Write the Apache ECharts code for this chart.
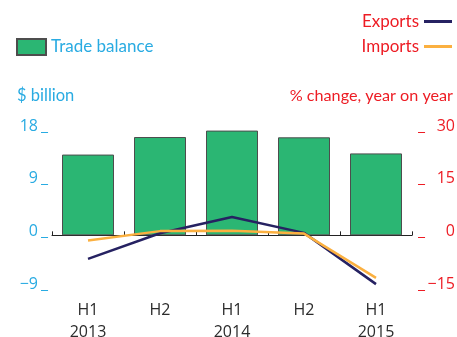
<!DOCTYPE html>
<html>
<head>
<meta charset="utf-8">
<style>
  html, body { margin: 0; padding: 0; background: #fff; }
  #chart { width: 457px; height: 337px; }
</style>
<script src="https://cdn.jsdelivr.net/npm/echarts@6/dist/echarts.min.js"></script>
</head>
<body>
<div id="chart"></div>
<script>
// Half-year periods
const periods = ['H1\n2013', 'H2', 'H1\n2014', 'H2', 'H1\n2015'];
// Trade balance, $ billion
const tradeBalance = [13.8, 16.8, 17.9, 16.75, 14.0];
// Year-on-year change, %
const exportsChange = [-6.7, 0.6, 5.2, 0.7, -13.9];
const importsChange = [-1.5, 1.2, 1.3, 0.5, -12.1];

const BLUE = '#29abe2';
const RED = '#ed1c24';
const GREEN = '#2bb673';
const NAVY = '#262262';
const ORANGE = '#fbb040';
const TICK_FONT = '"Open Sans", sans-serif';
const TEXT_FONT = 'Lato, sans-serif';

// Negative numbers use a typographic minus sign
const fmt = v => (v < 0 ? '\u2212' + Math.abs(v) : String(v));

const chart = echarts.init(document.getElementById('chart'), null, { renderer: 'canvas' });

chart.setOption({
  animation: false,
  grid: { left: 52, right: 45, top: 130, bottom: 49, outerBoundsMode: 'none', containLabel: false },
  legend: [
    {
      data: ['Trade balance'],
      left: 16, top: 38,
      padding: 0,
      itemWidth: 29, itemHeight: 16,
      icon: 'rect',
      textStyle: { color: BLUE, fontSize: 17, fontFamily: TEXT_FONT },
      itemGap: 10
    },
    {
      data: ['Exports', 'Imports'],
      orient: 'vertical',
      right: 5, top: 12,
      padding: 0,
      align: 'right',
      icon: 'rect',
      itemWidth: 28, itemHeight: 3,
      itemGap: 6,
      textStyle: { color: RED, fontSize: 17, fontFamily: TEXT_FONT, lineHeight: 19 }
    }
  ],
  xAxis: [
    {
      type: 'category',
      data: periods,
      position: 'bottom',
      axisLine: { show: false, onZero: false },
      axisTick: { show: false },
      axisLabel: {
        color: '#2b2b2b', fontSize: 16, fontFamily: TICK_FONT,
        lineHeight: 22, margin: 11
      }
    },
    {
      type: 'category',
      data: periods,
      position: 'top',
      axisLine: { show: true, onZero: true, lineStyle: { color: '#222', width: 1 } },
      axisTick: { show: true, length: 4, lineStyle: { color: '#222' } },
      axisLabel: { show: false }
    }
  ],
  yAxis: [
    {
      type: 'value',
      min: -9, max: 18, interval: 9,
      name: '$ billion',
      nameLocation: 'end',
      nameGap: 26,
      nameTextStyle: { color: BLUE, fontSize: 16.5, fontFamily: TEXT_FONT, align: 'left', padding: [0, 0, 0, -35] },
      splitLine: { show: false },
      axisLine: { show: false },
      axisTick: { show: false },
      axisLabel: {
        margin: 4,
        formatter: v => '{n|' + fmt(v) + '}{u|_}',
        rich: {
          n: { color: BLUE, fontSize: 16, fontFamily: TICK_FONT, width: 30, align: 'right' },
          u: { color: BLUE, fontSize: 16, fontFamily: TICK_FONT, padding: [0, 0, 0, 3] }
        },
        verticalAlign: 'middle',
        padding: [0, 0, 8, 0]
      }
    },
    {
      type: 'value',
      min: -15, max: 30, interval: 15,
      name: '% change, year on year',
      nameLocation: 'end',
      nameGap: 26,
      nameTextStyle: { color: RED, fontSize: 16.2, fontFamily: TEXT_FONT, align: 'right', padding: [0, -41, 0, 0] },
      splitLine: { show: false },
      axisLine: { show: false },
      axisTick: { show: false },
      axisLabel: {
        margin: 6,
        formatter: v => '{u|_}{n|' + fmt(v) + '}',
        rich: {
          u: { color: RED, fontSize: 16, fontFamily: TICK_FONT },
          n: { color: RED, fontSize: 16, fontFamily: TICK_FONT, width: 30, align: 'right' }
        },
        verticalAlign: 'middle',
        padding: [0, 0, 8, 0]
      }
    }
  ],
  series: [
    {
      name: 'Trade balance',
      type: 'bar',
      xAxisIndex: 0, yAxisIndex: 0,
      data: tradeBalance,
      barWidth: 52,
      itemStyle: { color: GREEN, borderColor: '#4d4d4d', borderWidth: 1 }
    },
    {
      name: 'Exports',
      type: 'line',
      xAxisIndex: 0, yAxisIndex: 1,
      data: exportsChange,
      symbol: 'none',
      lineStyle: { color: NAVY, width: 2.5 },
      itemStyle: { color: NAVY }
    },
    {
      name: 'Imports',
      type: 'line',
      xAxisIndex: 0, yAxisIndex: 1,
      data: importsChange,
      symbol: 'none',
      lineStyle: { color: ORANGE, width: 2.5 },
      itemStyle: { color: ORANGE }
    }
  ]
});
</script>
</body>
</html>
